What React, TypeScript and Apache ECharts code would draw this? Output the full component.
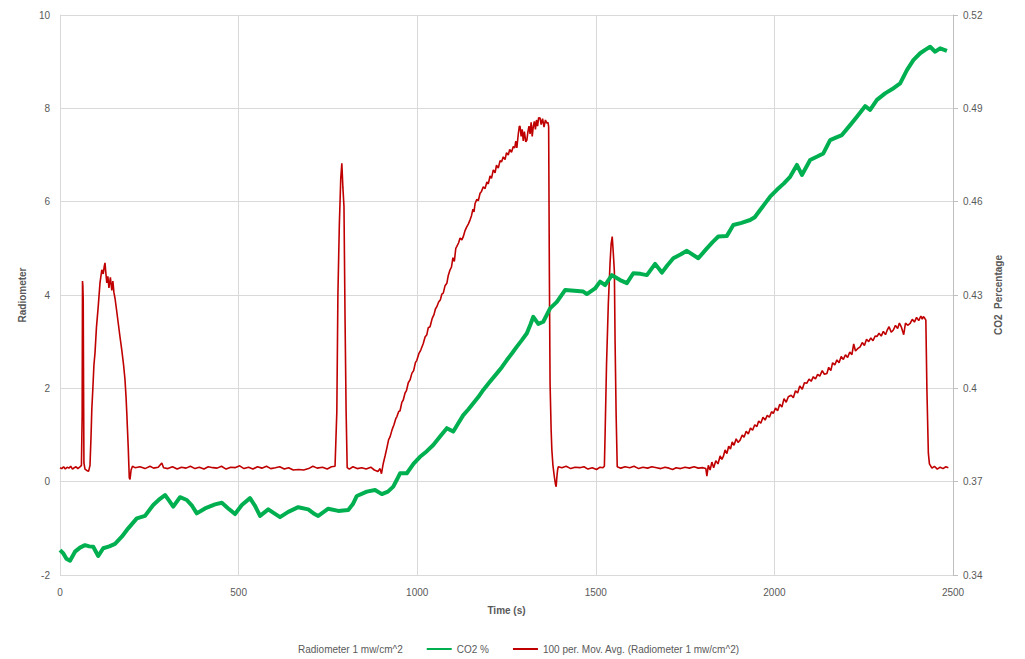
import React, { useEffect, useRef } from "react";
import * as echarts from "echarts";

const xTicks = [0, 500, 1000, 1500, 2000, 2500];
const leftTicks = [-2, 0, 2, 4, 6, 8, 10];
const rightTicks = [0.34, 0.37, 0.4, 0.43, 0.46, 0.49, 0.52];

const rawName = "Radiometer 1 mw/cm^2";
const co2Name = "CO2 %";
const avgName = "100 per. Mov. Avg. (Radiometer 1 mw/cm^2)";

// 100 per. moving average of radiometer [time s, mW/cm^2]
const avgStart = [
  [0, 0.3], [5, 0.28], [10, 0.32], [15, 0.27], [20, 0.31], [25, 0.29], [30, 0.33], [35, 0.27], [40, 0.3], [45, 0.32], [50, 0.28], [55, 0.31], [60, 0.35],
  [62, 1.4], [63, 4.3], [64, 4.2], [65, 3.9], [66, 2.0], [67, 0.4], [70, 0.27], [75, 0.24], [80, 0.22], [84, 0.35],
  [87, 1.0], [89, 1.54], [92, 2.0], [95, 2.5], [98, 2.76], [102, 3.3], [107, 3.75], [112, 4.26], [117, 4.54], [121, 4.45], [124, 4.62], [126, 4.69], [128, 4.5],
  [131, 4.26], [134, 4.4], [137, 4.15], [141, 4.38], [145, 4.1], [148, 4.3], [151, 4.05], [154, 3.93], [158, 3.7], [163, 3.4], [168, 3.1], [173, 2.82],
  [178, 2.5], [182, 2.18], [185, 1.8], [187, 1.47], [189, 1.1], [191, 0.74], [193, 0.3], [194, 0.08], [196, 0.05], [199, 0.25], [203, 0.33],
];
const avgFlat1 = [
  [210, 0.3], [224, 0.32], [238, 0.28], [252, 0.33], [262, 0.29], [275, 0.31], [285, 0.4], [290, 0.3], [302, 0.28], [315, 0.32], [328, 0.27], [340, 0.31],
  [353, 0.29], [365, 0.33], [378, 0.28], [390, 0.31], [403, 0.27], [415, 0.32], [428, 0.3], [440, 0.29], [452, 0.33], [465, 0.27], [478, 0.31], [490, 0.3],
  [503, 0.34], [515, 0.28], [528, 0.31], [540, 0.27], [553, 0.32], [565, 0.29], [578, 0.33], [590, 0.28], [603, 0.3], [615, 0.32], [628, 0.27], [640, 0.3],
  [653, 0.25], [668, 0.26], [682, 0.25], [696, 0.28], [708, 0.33], [720, 0.29], [735, 0.31], [748, 0.27], [760, 0.32], [770, 0.33],
];
const avgSpike2 = [
  [775, 1.5], [778, 4.0], [782, 5.5], [786, 6.5], [789, 6.82], [792, 6.3], [795, 5.9], [798, 3.5], [801, 1.5], [804, 0.3],
  [810, 0.27], [820, 0.32], [832, 0.28], [845, 0.3], [857, 0.27], [870, 0.31], [880, 0.25], [890, 0.22], [896, 0.28], [900, 0.17],
];
const avgRise1 = [
  [905, 0.39], [910, 0.55], [915, 0.72], [920, 0.9], [924, 0.96], [930, 1.12], [935, 1.22], [940, 1.35], [943, 1.39], [948, 1.5], [952, 1.52], [957, 1.7],
  [961, 1.75], [966, 1.9], [970, 1.95], [975, 2.12], [980, 2.18], [985, 2.32], [990, 2.38], [995, 2.55], [999, 2.6], [1005, 2.75], [1010, 2.82], [1017, 2.96],
  [1022, 3.1], [1027, 3.15], [1031, 3.3], [1036, 3.32], [1042, 3.5], [1047, 3.58], [1051, 3.7], [1055, 3.75], [1060, 3.85], [1065, 3.9], [1069, 4.02],
  [1073, 4.04], [1078, 4.2], [1083, 4.25], [1087, 4.42], [1092, 4.54], [1096, 4.6], [1100, 4.8], [1104, 4.72], [1108, 5.0], [1111, 5.04], [1116, 5.12],
  [1120, 5.22], [1125, 5.18], [1129, 5.25], [1134, 5.38], [1138, 5.45], [1143, 5.52], [1148, 5.61], [1152, 5.7], [1156, 5.84], [1159, 5.78], [1162, 5.96],
  [1167, 6.05], [1171, 6.02], [1176, 6.18], [1180, 6.22], [1185, 6.32], [1190, 6.28], [1195, 6.42], [1199, 6.38], [1204, 6.55], [1208, 6.5], [1213, 6.68],
  [1218, 6.62], [1222, 6.78], [1227, 6.72], [1232, 6.88], [1236, 6.85], [1241, 6.96], [1246, 6.9], [1250, 7.05], [1255, 7.0], [1259, 7.12], [1264, 7.06],
  [1269, 7.18], [1273, 7.15], [1276, 7.3], [1279, 7.15], [1283, 7.45], [1286, 7.62], [1288, 7.61], [1291, 7.4], [1294, 7.55], [1297, 7.3], [1300, 7.5],
  [1304, 7.28], [1307, 7.32], [1310, 7.5], [1313, 7.62], [1316, 7.45], [1319, 7.7], [1322, 7.4], [1325, 7.61], [1328, 7.72], [1331, 7.55], [1334, 7.75],
  [1337, 7.62], [1340, 7.8], [1344, 7.79], [1347, 7.65], [1351, 7.78], [1355, 7.6], [1359, 7.75], [1363, 7.68], [1366, 7.7], [1368, 7.61],
  [1370, 4.47], [1372, 2.1], [1375, 1.1], [1377, 0.68], [1380, 0.35], [1384, 0.1], [1387, -0.05], [1389, -0.11], [1391, 0.1], [1393, 0.25], [1395, 0.32],
];
const avgFlat2 = [
  [1405, 0.3], [1417, 0.33], [1430, 0.28], [1442, 0.31], [1455, 0.3], [1467, 0.32], [1478, 0.27], [1490, 0.3], [1502, 0.26], [1512, 0.31], [1520, 0.3], [1524, 0.33],
  [1526, 1.0], [1530, 2.5], [1535, 3.8], [1540, 4.7], [1543, 5.1], [1546, 5.25], [1549, 4.9], [1552, 4.5], [1554, 3.0], [1557, 1.4], [1560, 0.32],
  [1570, 0.29], [1582, 0.32], [1595, 0.3], [1607, 0.33], [1620, 0.28], [1632, 0.31], [1645, 0.29], [1657, 0.32], [1670, 0.3], [1682, 0.28], [1694, 0.31],
  [1705, 0.29], [1715, 0.26], [1725, 0.3], [1737, 0.28], [1750, 0.31], [1762, 0.29], [1775, 0.32], [1787, 0.29], [1800, 0.3], [1808, 0.28],
];
const avgRise2 = [
  [1811, 0.12], [1815, 0.35], [1820, 0.25], [1825, 0.42], [1830, 0.3], [1836, 0.45], [1842, 0.38], [1848, 0.55], [1853, 0.48], [1857, 0.54], [1862, 0.68],
  [1867, 0.6], [1872, 0.76], [1877, 0.7], [1882, 0.85], [1887, 0.78], [1893, 0.92], [1898, 0.84], [1904, 0.89], [1910, 1.0], [1915, 0.95], [1921, 1.08],
  [1927, 1.02], [1933, 1.15], [1939, 1.1], [1945, 1.22], [1951, 1.18], [1956, 1.3], [1962, 1.25], [1968, 1.38], [1974, 1.32], [1980, 1.42], [1986, 1.38],
  [1992, 1.5], [1997, 1.46], [2003, 1.58], [2009, 1.52], [2015, 1.66], [2021, 1.6], [2027, 1.78], [2033, 1.7], [2039, 1.82], [2047, 1.85], [2053, 1.8],
  [2059, 1.95], [2065, 1.9], [2071, 2.05], [2078, 1.98], [2084, 2.12], [2091, 2.11], [2097, 2.2], [2103, 2.15], [2109, 2.25], [2115, 2.2], [2121, 2.3],
  [2127, 2.26], [2134, 2.38], [2140, 2.3], [2147, 2.32], [2152, 2.45], [2158, 2.38], [2163, 2.55], [2169, 2.5], [2175, 2.61], [2181, 2.55], [2187, 2.68],
  [2193, 2.62], [2199, 2.72], [2205, 2.66], [2211, 2.78], [2217, 2.72], [2222, 2.95], [2227, 2.8], [2233, 2.85], [2240, 2.89], [2246, 2.98], [2252, 2.92],
  [2258, 3.05], [2264, 3.0], [2270, 3.08], [2276, 3.02], [2282, 3.12], [2287, 3.11], [2293, 3.18], [2299, 3.12], [2305, 3.22], [2311, 3.15], [2316, 3.25],
  [2321, 3.32], [2327, 3.2], [2333, 3.25], [2339, 3.35], [2345, 3.28], [2350, 3.4], [2356, 3.3], [2362, 3.15], [2367, 3.4], [2373, 3.35], [2380, 3.39],
  [2386, 3.48], [2392, 3.42], [2398, 3.52], [2404, 3.45], [2410, 3.55], [2414, 3.48], [2417, 3.54], [2421, 3.5], [2424, 3.46],
  [2427, 1.96], [2431, 0.61], [2434, 0.38], [2441, 0.29], [2448, 0.33], [2456, 0.27], [2464, 0.31], [2472, 0.28], [2480, 0.32], [2487, 0.3],
];

// CO2 percentage [time s, %]
const co2 = [
  [0, 0.348], [9, 0.347], [18, 0.3452], [28, 0.3446], [42, 0.3475], [56, 0.3488], [70, 0.3496], [82, 0.3492], [93, 0.3491], [107, 0.3461], [121, 0.3486],
  [138, 0.3492], [154, 0.35], [173, 0.3523], [191, 0.355], [215, 0.3582], [238, 0.359], [261, 0.3625], [280, 0.3645], [294, 0.3657], [305, 0.364],
  [317, 0.362], [336, 0.365], [355, 0.3641], [370, 0.3622], [383, 0.3598], [406, 0.3614], [434, 0.3627], [453, 0.3632], [471, 0.3614], [490, 0.3596],
  [509, 0.3625], [532, 0.3647], [546, 0.3622], [560, 0.359], [583, 0.3611], [600, 0.3598], [616, 0.3586], [639, 0.3603], [667, 0.3618], [695, 0.3611],
  [710, 0.3598], [723, 0.359], [751, 0.3613], [779, 0.3606], [807, 0.3609], [820, 0.3628], [831, 0.3654], [859, 0.3668], [882, 0.3673], [901, 0.366],
  [918, 0.3668], [933, 0.3684], [943, 0.3706], [952, 0.3727], [971, 0.3727], [990, 0.3758], [1008, 0.378], [1027, 0.3798], [1045, 0.3818], [1064, 0.3845],
  [1083, 0.3872], [1101, 0.3861], [1115, 0.3888], [1129, 0.3914], [1143, 0.3932], [1157, 0.3952], [1171, 0.3972], [1185, 0.3995], [1204, 0.4022],
  [1223, 0.4048], [1237, 0.4068], [1251, 0.4091], [1265, 0.4112], [1279, 0.4134], [1293, 0.4155], [1307, 0.4177], [1317, 0.4205], [1325, 0.423],
  [1339, 0.4207], [1353, 0.4214], [1372, 0.4257], [1391, 0.4278], [1414, 0.4316], [1440, 0.4314], [1465, 0.4311], [1475, 0.4303], [1498, 0.4321],
  [1512, 0.4343], [1526, 0.4332], [1545, 0.4364], [1568, 0.4348], [1587, 0.4338], [1605, 0.437], [1625, 0.4368], [1643, 0.4364], [1666, 0.44],
  [1685, 0.4372], [1700, 0.4395], [1717, 0.4418], [1737, 0.443], [1755, 0.4442], [1787, 0.4418], [1811, 0.445], [1827, 0.447], [1843, 0.4488],
  [1867, 0.449], [1885, 0.4525], [1908, 0.4532], [1932, 0.4541], [1945, 0.455], [1960, 0.4573], [1975, 0.4596], [1988, 0.4616], [2007, 0.4638],
  [2026, 0.4658], [2044, 0.468], [2063, 0.4718], [2077, 0.4686], [2100, 0.4734], [2120, 0.4745], [2137, 0.4755], [2156, 0.4798], [2172, 0.4806],
  [2189, 0.4814], [2212, 0.4846], [2231, 0.4873], [2254, 0.4907], [2268, 0.4895], [2287, 0.4927], [2310, 0.4948], [2330, 0.4962], [2352, 0.498],
  [2371, 0.5023], [2389, 0.5055], [2408, 0.5077], [2422, 0.5088], [2436, 0.5098], [2450, 0.5082], [2464, 0.5093], [2483, 0.5085],
];

const avgData = [...avgStart, ...avgFlat1, ...avgSpike2, ...avgRise1, ...avgFlat2, ...avgRise2];

const TEXT = "#595959";
const GRID = "#d9d9d9";
const FONT = "'Liberation Sans', Arial, sans-serif";

export default function App() {
  const ref = useRef<HTMLDivElement>(null);
  useEffect(() => {
    if (!ref.current) return;
    const chart = echarts.init(ref.current, undefined, { renderer: "svg" });
    chart.setOption({
      animation: false,
      backgroundColor: "#ffffff",
      textStyle: { fontFamily: FONT },
      grid: { left: 60, right: 72, top: 15, bottom: 84, containLabel: false },
      legend: {
        top: 639,
        left: 263,
        itemWidth: 25,
        itemHeight: 2,
        itemGap: 24,
        textStyle: { color: TEXT, fontSize: 10, fontFamily: FONT },
        data: [
          { name: rawName, icon: "none" },
          { name: co2Name, icon: "rect" },
          { name: avgName, icon: "rect" },
        ],
      },
      xAxis: {
        type: "value",
        min: xTicks[0],
        max: xTicks[xTicks.length - 1],
        interval: xTicks[1] - xTicks[0],
        name: "Time (s)",
        nameLocation: "middle",
        nameGap: 30,
        nameTextStyle: { color: TEXT, fontSize: 10, fontWeight: "bold", fontFamily: FONT },
        axisLine: { show: true, lineStyle: { color: GRID, width: 1 } },
        axisTick: { show: false },
        axisLabel: { color: TEXT, fontSize: 10, margin: 12, fontFamily: FONT, formatter: (v: number) => String(v) },
        splitLine: { show: true, lineStyle: { color: GRID, width: 1 } },
      },
      yAxis: [
        {
          type: "value",
          position: "left",
          min: leftTicks[0],
          max: leftTicks[leftTicks.length - 1],
          interval: leftTicks[1] - leftTicks[0],
          name: "Radiometer",
          nameLocation: "middle",
          nameRotate: 90,
          nameGap: 30,
          nameTextStyle: { color: TEXT, fontSize: 10, fontWeight: "bold", fontFamily: FONT },
          axisLine: { show: true, lineStyle: { color: GRID, width: 1 } },
          axisTick: { show: false },
          axisLabel: { color: TEXT, fontSize: 10, margin: 10, fontFamily: FONT },
          splitLine: { show: true, lineStyle: { color: GRID, width: 1 } },
        },
        {
          type: "value",
          position: "right",
          min: rightTicks[0],
          max: rightTicks[rightTicks.length - 1],
          interval: 0.03,
          name: "CO2  Percentage",
          nameLocation: "middle",
          nameRotate: 90,
          nameGap: 40,
          nameTextStyle: { color: TEXT, fontSize: 10, fontWeight: "bold", fontFamily: FONT },
          axisLine: { show: true, lineStyle: { color: "#bfbfbf", width: 1 } },
          axisTick: { show: true, length: 5, lineStyle: { color: "#bfbfbf" } },
          axisLabel: {
            color: TEXT,
            fontSize: 10,
            margin: 10,
            fontFamily: FONT,
            formatter: (v: number) => String(Number(v.toFixed(2))),
          },
          splitLine: { show: false },
        },
      ],
      series: [
        {
          name: rawName,
          type: "line",
          yAxisIndex: 0,
          data: [],
          showSymbol: false,
          lineStyle: { width: 0, opacity: 0 },
          itemStyle: { color: "#4472c4" },
        },
        {
          name: avgName,
          type: "line",
          yAxisIndex: 0,
          data: avgData,
          showSymbol: false,
          symbol: "none",
          lineStyle: { color: "#c00000", width: 1.6 },
          itemStyle: { color: "#c00000" },
        },
        {
          name: co2Name,
          type: "line",
          yAxisIndex: 1,
          data: co2,
          showSymbol: false,
          symbol: "none",
          lineStyle: { color: "#00b050", width: 4, join: "round" },
          itemStyle: { color: "#00b050" },
        },
      ],
    });
    return () => chart.dispose();
  }, []);
  return <div ref={ref} style={{ width: 1025, height: 659, position: "absolute", left: 0, top: 0 }} />;
}
